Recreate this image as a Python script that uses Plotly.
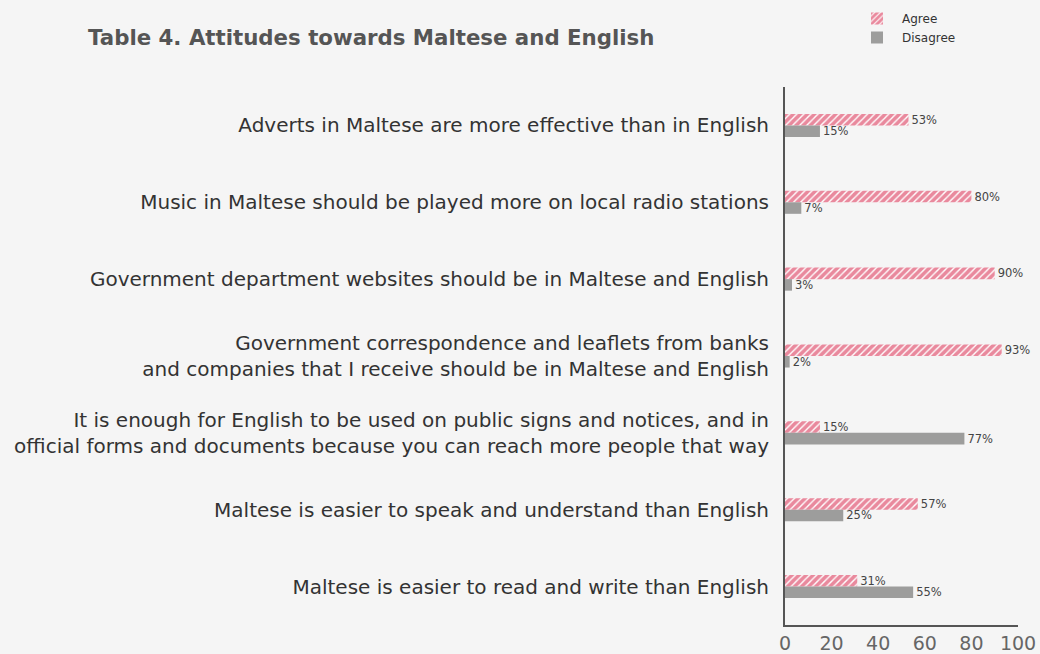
import plotly.graph_objects as go

categories = [
    "Adverts in Maltese are more effective than in English",
    "Music in Maltese should be played more on local radio stations",
    "Government department websites should be in Maltese and English",
    "Government correspondence and leaflets from banks<br>and companies that I receive should be in Maltese and English",
    "It is enough for English to be used on public signs and notices, and in<br>official forms and documents because you can reach more people that way",
    "Maltese is easier to speak and understand than English",
    "Maltese is easier to read and write than English",
]
agree = [53, 80, 90, 93, 15, 57, 31]
disagree = [15, 7, 3, 2, 77, 25, 55]
x_ticks = [0, 20, 40, 60, 80, 100]

RED = "#d4143c"
GREY = "#9d9d9c"
FONT = "DejaVu Sans"

fig = go.Figure()
fig.add_trace(go.Bar(
    name="Agree", y=categories, x=agree, orientation="h",
    marker=dict(color="white", line=dict(width=0),
                pattern=dict(shape="/", fgcolor=RED, bgcolor="white", size=5, solidity=0.72, fillmode="overlay")),
    text=[f"{v}%" for v in agree], textposition="outside", constraintext="none",
    textfont=dict(size=11.5, color="#444", family=FONT), cliponaxis=False,
))
fig.add_trace(go.Bar(
    name="Disagree", y=categories, x=disagree, orientation="h",
    marker=dict(color=GREY, line=dict(width=0)),
    text=[f"{v}%" for v in disagree], textposition="outside", constraintext="none",
    textfont=dict(size=11.5, color="#444", family=FONT), cliponaxis=False,
))

fig.update_layout(
    width=1040, height=654,
    paper_bgcolor="#f5f5f5", plot_bgcolor="#f5f5f5",
    margin=dict(l=785, r=22, t=87, b=29, autoexpand=False),
    barmode="group", bargap=0.7, bargroupgap=0,
    font=dict(family=FONT, color="#333"),
    title=dict(text="<b>Table 4. Attitudes towards Maltese and English</b>",
               x=88/1040, xanchor="left", y=1-38/654, yanchor="middle",
               font=dict(size=21.3, color="#555", family=FONT)),
    legend=dict(x=852/1040, xref="container", y=1-4/654, yref="container",
                xanchor="left", yanchor="top", bgcolor="rgba(0,0,0,0)",
                font=dict(size=12, color="#333", family=FONT),
                tracegroupgap=0, itemwidth=40),
    showlegend=True,
)
fig.update_xaxes(range=[0, 100], tickvals=x_ticks, showgrid=False, zeroline=False,
                 showline=True, linecolor="#555", linewidth=2, tickangle=0,
                 tickfont=dict(size=19, color="#666", family=FONT), ticks="", ticklabelstandoff=0)
fig.update_yaxes(autorange="reversed", showgrid=False, zeroline=False,
                 showline=True, linecolor="#555", linewidth=2, ticks="",
                 tickfont=dict(size=20, color="#333", family=FONT), ticklabelstandoff=10)

fig.write_html("out.html")
